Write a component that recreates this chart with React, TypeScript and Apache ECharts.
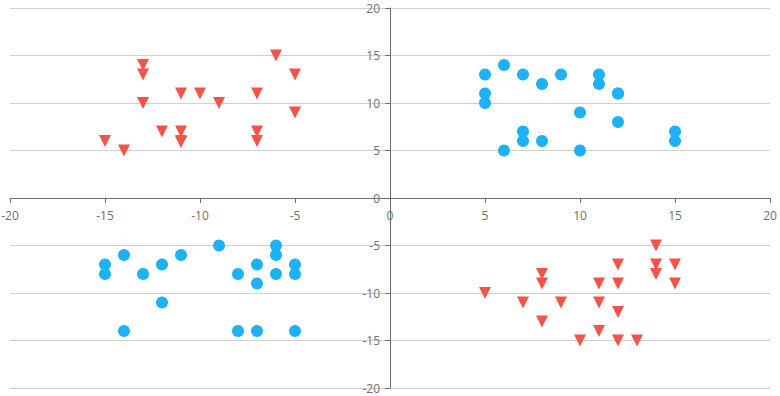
import React, { useEffect, useRef } from "react";
import * as echarts from "echarts";

const redTopLeft: number[][] = [
  [-15, 6], [-14, 5], [-13, 14], [-13, 13], [-13, 10], [-12, 7], [-11, 11], [-11, 7],
  [-11, 6], [-11, 5.9], [-10, 11], [-9, 10], [-7, 11], [-7, 7], [-7, 6], [-6, 15],
  [-5, 13], [-5, 9],
];
const redBottomRight: number[][] = [
  [5, -10], [7, -11], [8, -8], [8, -9], [8, -13], [9, -11], [10, -15], [11, -9],
  [11, -11], [11, -14], [12, -7], [12, -9], [12, -12], [12, -15], [13, -15], [14, -5],
  [14, -7], [14, -8], [15, -7], [15, -9],
];
const blueTopRight: number[][] = [
  [5, 13], [5, 11], [5, 10], [6, 14], [6, 5], [7, 13], [7, 7], [7, 6], [8, 12], [8, 6],
  [9, 13], [10, 9], [10, 5], [11, 13], [11, 12], [12, 11], [12, 11], [12, 8], [15, 7], [15, 6],
];
const blueBottomLeft: number[][] = [
  [-15, -7], [-15, -8], [-14, -6], [-14, -14], [-13, -8], [-12, -7], [-12, -11], [-11, -6],
  [-9, -5], [-8, -8], [-8, -14], [-7, -7], [-7, -9], [-7, -14], [-6, -5], [-6, -6],
  [-6, -8], [-5, -7], [-5, -8], [-5, -14],
];

const RED = "#f35447";
const BLUE = "#1eb1f5";

const W = 780;
const H = 396;
const GRID = { left: 10, right: 10, top: 8, bottom: 8 };

export default function App() {
  const ref = useRef<HTMLDivElement>(null);
  useEffect(() => {
    if (!ref.current) return;
    const chart = echarts.init(ref.current, undefined, { renderer: "svg" });
    const gridW = W - GRID.left - GRID.right;
    const gridH = H - GRID.top - GRID.bottom;
    const axisCommon = {
      type: "value" as const,
      min: -20,
      max: 20,
      interval: 5,
      axisLine: { show: true, onZero: false, lineStyle: { color: "#6e6e6e" } },
      axisTick: { show: true, length: 5, lineStyle: { color: "#6e6e6e" } },
    };
    const labelStyle = { color: "#707070", fontSize: 12, fontFamily: "Open Sans" };
    chart.setOption({
      animation: false,
      grid: { ...GRID, containLabel: false, outerBoundsMode: "none" },
      xAxis: {
        ...axisCommon,
        position: "bottom",
        offset: -gridH / 2,
        axisLabel: { ...labelStyle, margin: 11 },
        splitLine: { show: false },
      },
      yAxis: {
        ...axisCommon,
        position: "left",
        offset: -gridW / 2,
        axisLabel: { ...labelStyle, margin: 10 },
        splitLine: { show: true, lineStyle: { color: "#d0d0d0" } },
      },
      series: [
        { type: "scatter", data: redTopLeft, symbol: "triangle", symbolRotate: 180, symbolSize: 12, itemStyle: { color: RED, opacity: 1 } },
        { type: "scatter", data: redBottomRight, symbol: "triangle", symbolRotate: 180, symbolSize: 12, itemStyle: { color: RED, opacity: 1 } },
        { type: "scatter", data: blueTopRight, symbol: "circle", symbolSize: 12, itemStyle: { color: BLUE, opacity: 1 } },
        { type: "scatter", data: blueBottomLeft, symbol: "circle", symbolSize: 12, itemStyle: { color: BLUE, opacity: 1 } },
      ],
    });
    return () => chart.dispose();
  }, []);
  return <div ref={ref} style={{ position: "absolute", left: 0, top: 0, width: W, height: H }} />;
}
